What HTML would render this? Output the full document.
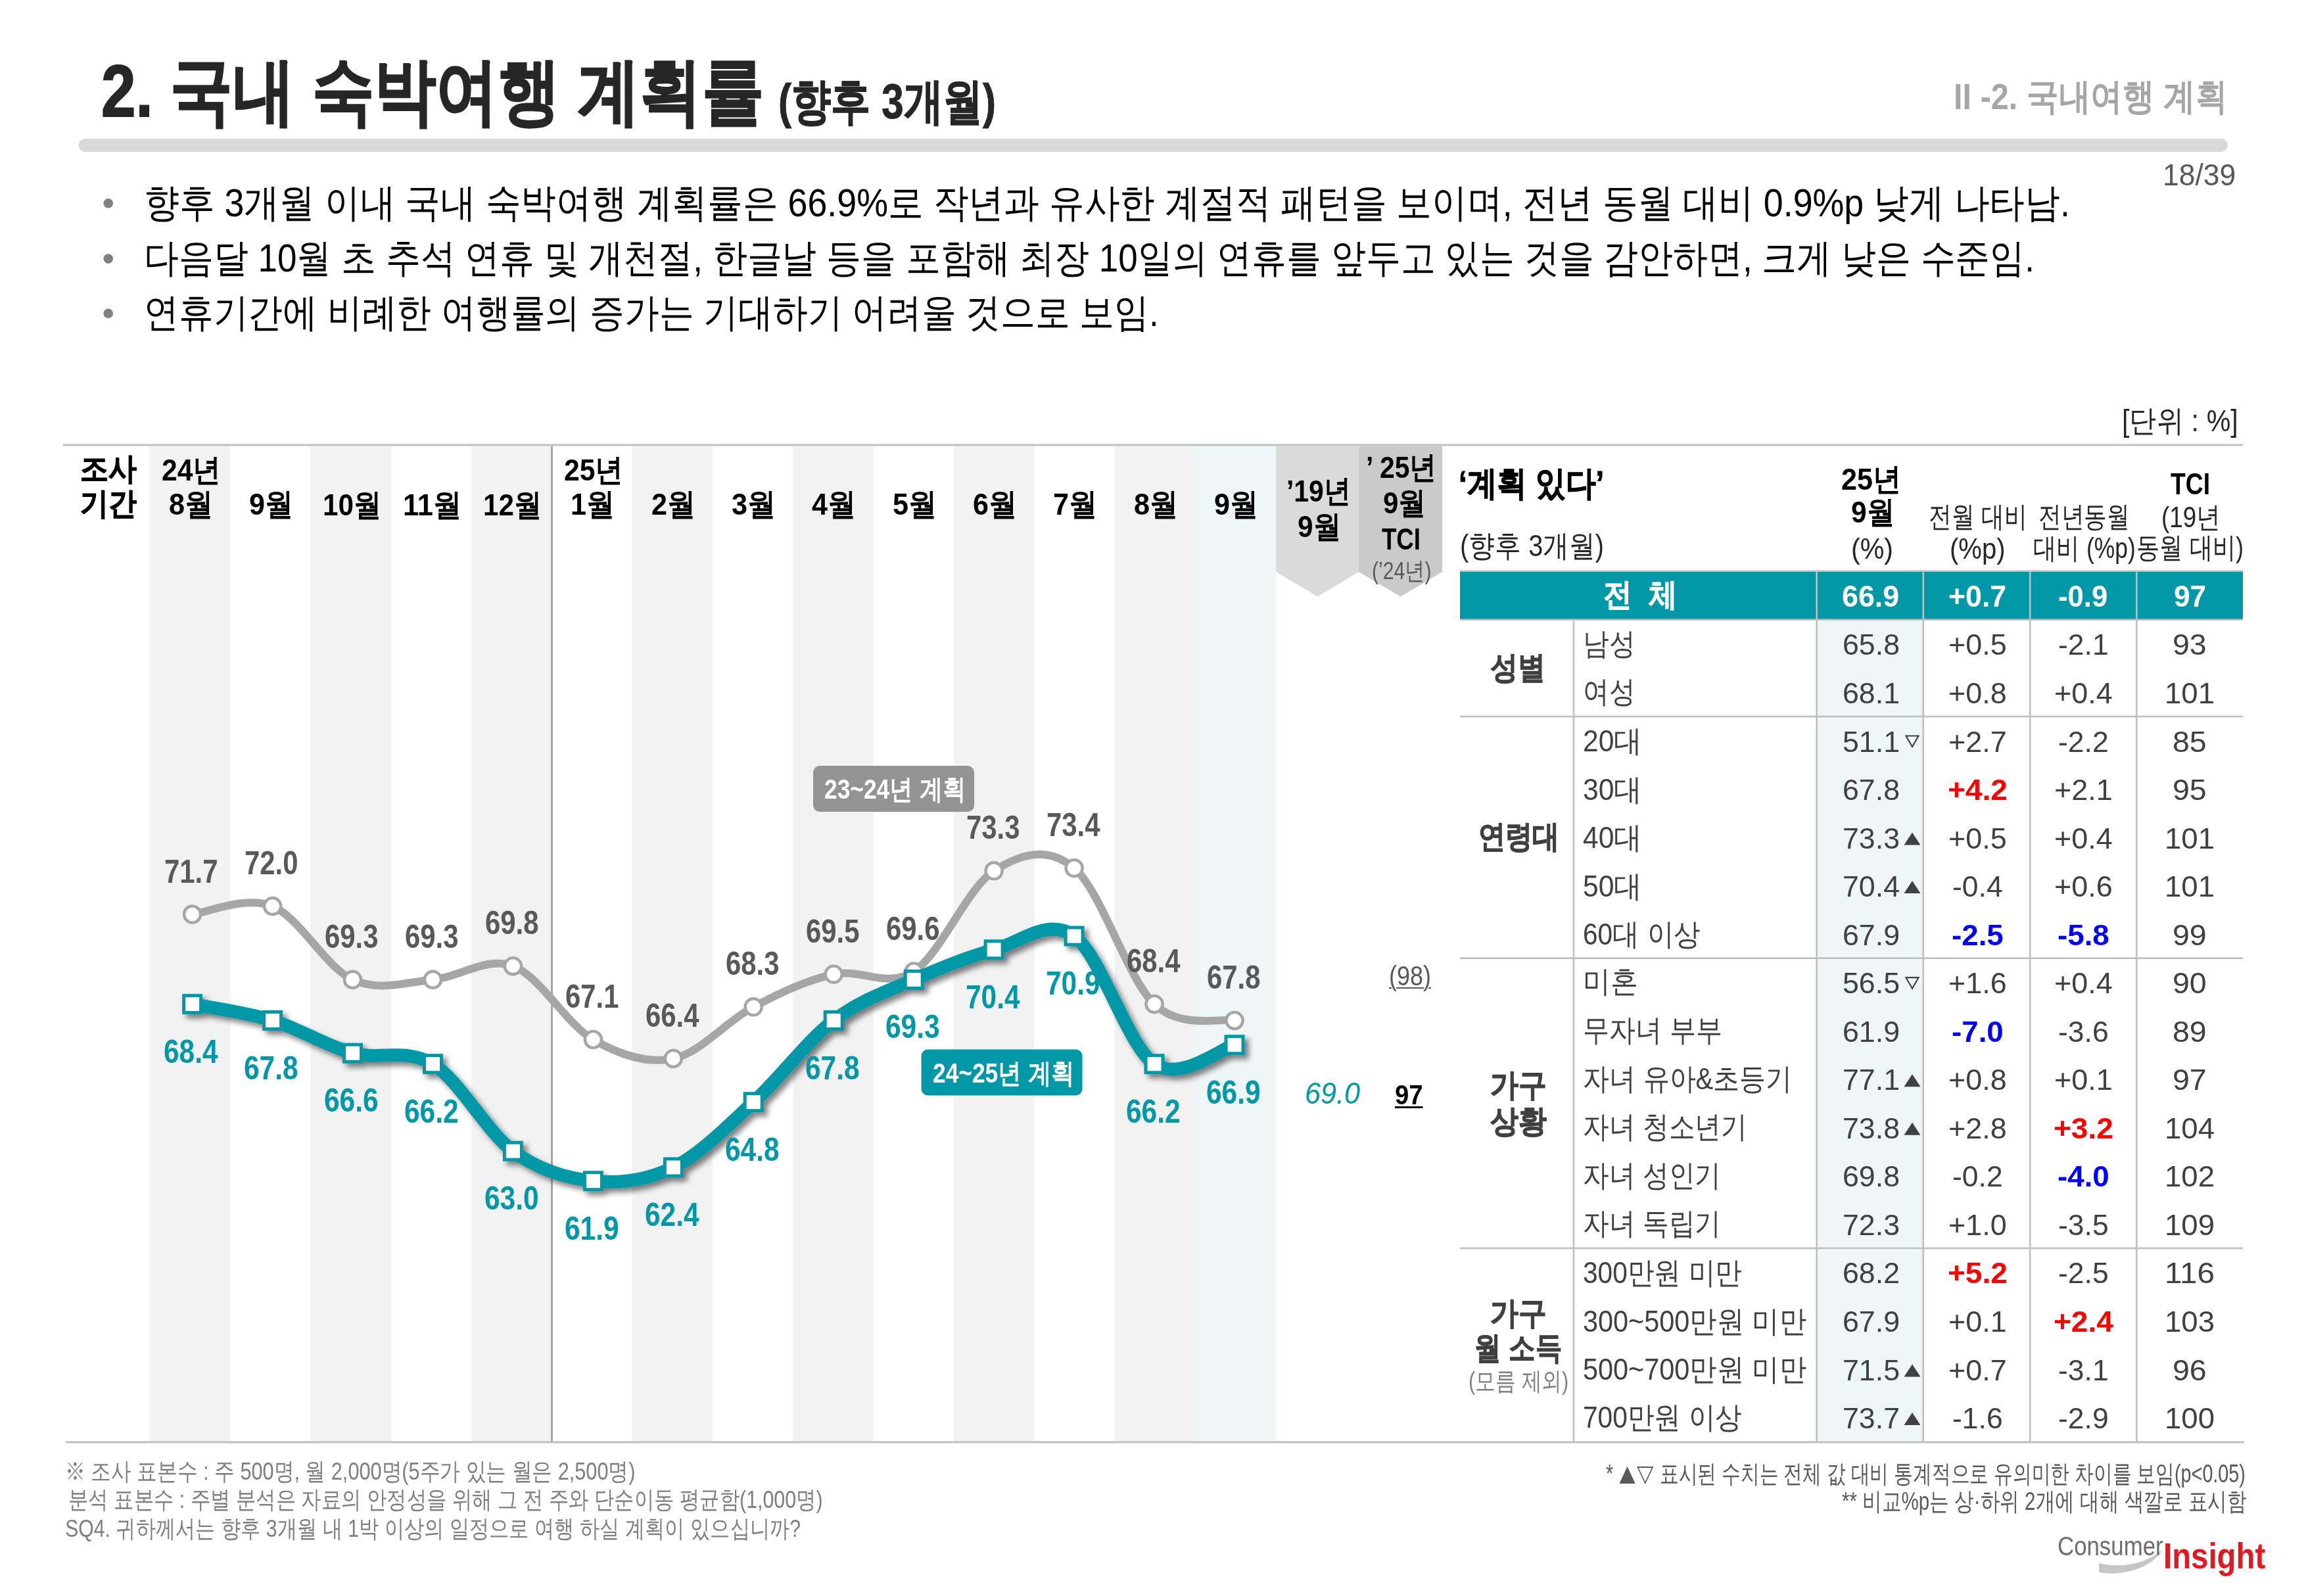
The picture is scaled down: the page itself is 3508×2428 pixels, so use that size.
<!DOCTYPE html>
<html lang="ko"><head><meta charset="utf-8"><title>2. 국내 숙박여행 계획률</title>
<style>
html,body{margin:0;padding:0;background:#fff}
body{width:3508px;height:2428px;position:relative;overflow:hidden;font-family:"Liberation Sans",sans-serif}
#art{position:absolute;left:0;top:0}
.t{position:absolute;white-space:nowrap;transform-origin:0 50%;margin:0;padding:0;list-style:none;display:block}
ul,header,section,footer{margin:0;padding:0}
.tri{vertical-align:-3px;margin:0 1px}
</style></head><body>
<svg id="art" width="3508" height="2428" viewBox="0 0 3508 2428">
<defs><filter id="sh" x="-5%" y="-5%" width="110%" height="120%"><feGaussianBlur in="SourceAlpha" stdDeviation="4.5"/><feOffset dx="6" dy="6"/><feComponentTransfer><feFuncA type="linear" slope="0.5"/></feComponentTransfer><feMerge><feMergeNode/><feMergeNode in="SourceGraphic"/></feMerge></filter></defs>
<rect x="228.0" y="679" width="122.3" height="1514" fill="#f2f2f2"/>
<rect x="472.6" y="679" width="122.3" height="1514" fill="#f2f2f2"/>
<rect x="717.2" y="679" width="122.3" height="1514" fill="#f2f2f2"/>
<rect x="961.8" y="679" width="122.3" height="1514" fill="#f2f2f2"/>
<rect x="1206.4" y="679" width="122.3" height="1514" fill="#f2f2f2"/>
<rect x="1451.0" y="679" width="122.3" height="1514" fill="#f2f2f2"/>
<rect x="1695.6" y="679" width="122.3" height="1514" fill="#f2f2f2"/>
<rect x="1816.2" y="679" width="125.0" height="1514" fill="#eef6f7"/>
<rect x="2763.7" y="943" width="162.1" height="1250" fill="#eef6f7"/>
<path d="M1941.2 679H2067.1V870L2004.2 907.6L1941.2 870Z" fill="#dadada"/>
<path d="M2067.1 679H2194.1V870L2130.6 907.6L2067.1 870Z" fill="#cacaca"/>
<rect x="838" y="679" width="3" height="1514" fill="#a6a6a6"/>
<path d="M292.6 1391.0 C312.9 1388.9 373.9 1362.0 414.6 1378.6 C455.2 1395.2 495.9 1471.7 536.5 1490.4 C577.1 1509.0 617.8 1493.8 658.5 1490.4 C699.1 1486.9 739.8 1454.5 780.4 1469.7 C821.1 1484.9 861.7 1558.0 902.4 1581.5 C943.0 1604.9 983.7 1618.7 1024.3 1610.4 C1065.0 1602.2 1105.6 1553.2 1146.2 1531.8 C1186.9 1510.4 1227.5 1491.1 1268.2 1482.1 C1308.9 1473.1 1349.5 1504.2 1390.2 1478.0 C1430.8 1451.7 1471.4 1351.0 1512.1 1324.8 C1552.8 1298.6 1593.4 1286.8 1634.1 1320.6 C1674.7 1354.4 1715.3 1489.0 1756.0 1527.6 C1796.7 1566.3 1857.6 1548.3 1878.0 1552.5" fill="none" stroke="#a6a6a6" stroke-width="12" stroke-linecap="round" stroke-linejoin="round"/>
<circle cx="292.6" cy="1391.0" r="12.6" fill="#fff" stroke="#a6a6a6" stroke-width="4.4"/>
<circle cx="414.6" cy="1378.6" r="12.6" fill="#fff" stroke="#a6a6a6" stroke-width="4.4"/>
<circle cx="536.5" cy="1490.4" r="12.6" fill="#fff" stroke="#a6a6a6" stroke-width="4.4"/>
<circle cx="658.5" cy="1490.4" r="12.6" fill="#fff" stroke="#a6a6a6" stroke-width="4.4"/>
<circle cx="780.4" cy="1469.7" r="12.6" fill="#fff" stroke="#a6a6a6" stroke-width="4.4"/>
<circle cx="902.4" cy="1581.5" r="12.6" fill="#fff" stroke="#a6a6a6" stroke-width="4.4"/>
<circle cx="1024.3" cy="1610.4" r="12.6" fill="#fff" stroke="#a6a6a6" stroke-width="4.4"/>
<circle cx="1146.2" cy="1531.8" r="12.6" fill="#fff" stroke="#a6a6a6" stroke-width="4.4"/>
<circle cx="1268.2" cy="1482.1" r="12.6" fill="#fff" stroke="#a6a6a6" stroke-width="4.4"/>
<circle cx="1390.2" cy="1478.0" r="12.6" fill="#fff" stroke="#a6a6a6" stroke-width="4.4"/>
<circle cx="1512.1" cy="1324.8" r="12.6" fill="#fff" stroke="#a6a6a6" stroke-width="4.4"/>
<circle cx="1634.1" cy="1320.6" r="12.6" fill="#fff" stroke="#a6a6a6" stroke-width="4.4"/>
<circle cx="1756.0" cy="1527.6" r="12.6" fill="#fff" stroke="#a6a6a6" stroke-width="4.4"/>
<circle cx="1878.0" cy="1552.5" r="12.6" fill="#fff" stroke="#a6a6a6" stroke-width="4.4"/>
<g filter="url(#sh)"><path d="M292.6 1527.6 C312.9 1531.8 373.9 1540.1 414.6 1552.5 C455.2 1564.9 495.9 1591.1 536.5 1602.2 C577.1 1613.2 617.8 1593.9 658.5 1618.7 C699.1 1643.6 739.8 1721.5 780.4 1751.2 C821.1 1780.9 861.7 1792.6 902.4 1796.7 C943.0 1800.9 983.7 1796.0 1024.3 1776.0 C1065.0 1756.0 1105.6 1713.9 1146.2 1676.7 C1186.9 1639.4 1227.5 1583.5 1268.2 1552.5 C1308.9 1521.4 1349.5 1508.3 1390.2 1490.4 C1430.8 1472.4 1471.4 1455.9 1512.1 1444.8 C1552.8 1433.8 1593.4 1395.2 1634.1 1424.1 C1674.7 1453.1 1715.3 1591.1 1756.0 1618.7 C1796.7 1646.3 1857.6 1594.6 1878.0 1589.7" fill="none" stroke="#0097a7" stroke-width="20" stroke-linecap="round" stroke-linejoin="round"/>
<rect x="279.6" y="1514.6" width="26" height="26" fill="#fff" stroke="#0097a7" stroke-width="5"/>
<rect x="401.6" y="1539.5" width="26" height="26" fill="#fff" stroke="#0097a7" stroke-width="5"/>
<rect x="523.5" y="1589.2" width="26" height="26" fill="#fff" stroke="#0097a7" stroke-width="5"/>
<rect x="645.5" y="1605.7" width="26" height="26" fill="#fff" stroke="#0097a7" stroke-width="5"/>
<rect x="767.4" y="1738.2" width="26" height="26" fill="#fff" stroke="#0097a7" stroke-width="5"/>
<rect x="889.4" y="1783.7" width="26" height="26" fill="#fff" stroke="#0097a7" stroke-width="5"/>
<rect x="1011.3" y="1763.0" width="26" height="26" fill="#fff" stroke="#0097a7" stroke-width="5"/>
<rect x="1133.2" y="1663.7" width="26" height="26" fill="#fff" stroke="#0097a7" stroke-width="5"/>
<rect x="1255.2" y="1539.5" width="26" height="26" fill="#fff" stroke="#0097a7" stroke-width="5"/>
<rect x="1377.2" y="1477.4" width="26" height="26" fill="#fff" stroke="#0097a7" stroke-width="5"/>
<rect x="1499.1" y="1431.8" width="26" height="26" fill="#fff" stroke="#0097a7" stroke-width="5"/>
<rect x="1621.1" y="1411.1" width="26" height="26" fill="#fff" stroke="#0097a7" stroke-width="5"/>
<rect x="1743.0" y="1605.7" width="26" height="26" fill="#fff" stroke="#0097a7" stroke-width="5"/>
<rect x="1865.0" y="1576.7" width="26" height="26" fill="#fff" stroke="#0097a7" stroke-width="5"/>
</g>
<rect x="1237" y="1165" width="245" height="70" rx="10" fill="#939393"/>
<rect x="1401.5" y="1596.5" width="245" height="70" rx="10" fill="#0097a7"/>
<rect x="119.5" y="211" width="3269.5" height="20" rx="10" fill="#d9d9d9"/>
<rect x="96" y="675.5" width="3316" height="3" fill="#bfbfbf"/>
<rect x="100" y="2192.5" width="3314" height="3" fill="#bfbfbf"/>
<circle cx="164.7" cy="309.3" r="7.3" fill="#808080"/>
<circle cx="164.7" cy="393.6" r="7.3" fill="#808080"/>
<circle cx="164.7" cy="476.8" r="7.3" fill="#808080"/>
<rect x="2221" y="869.5" width="1191" height="73" fill="#0097a7"/>
<rect x="2221" y="867.5" width="1191" height="2.5" fill="#bfbfbf"/>
<rect x="2221" y="941.5" width="1191" height="2.5" fill="#bfbfbf"/>
<rect x="2762.4" y="868" width="2.6" height="1325" fill="#bfbfbf"/>
<rect x="2924.5" y="868" width="2.6" height="1325" fill="#bfbfbf"/>
<rect x="3086.9" y="868" width="2.6" height="1325" fill="#bfbfbf"/>
<rect x="3249.0" y="868" width="2.6" height="1325" fill="#bfbfbf"/>
<rect x="2392.7" y="944" width="2.6" height="1249" fill="#bfbfbf"/>
<rect x="2221" y="1088.7" width="1191" height="2.6" fill="#bfbfbf"/>
<rect x="2221" y="1456.4" width="1191" height="2.6" fill="#bfbfbf"/>
<rect x="2221" y="1897.6" width="1191" height="2.6" fill="#bfbfbf"/>
<path d="M2899.5 1119.5h19l-9.5 16.5z" fill="none" stroke="#404040" stroke-width="2.2"/>
<path d="M2896.5 1285.5l12.5 -19l12.5 19z" fill="#404040"/>
<path d="M2896.5 1359.1l12.5 -19l12.5 19z" fill="#404040"/>
<path d="M2899.5 1487.2h19l-9.5 16.5z" fill="none" stroke="#404040" stroke-width="2.2"/>
<path d="M2896.5 1653.2l12.5 -19l12.5 19z" fill="#404040"/>
<path d="M2896.5 1726.8l12.5 -19l12.5 19z" fill="#404040"/>
<path d="M2896.5 2094.5l12.5 -19l12.5 19z" fill="#404040"/>
<path d="M2896.5 2168.0l12.5 -19l12.5 19z" fill="#404040"/>
<path d="M3193 2378C3225 2386 3265 2380 3290 2357C3272 2388 3225 2398 3193 2392Z" fill="#c6c6c6"/>
</svg>
<header>
<h1 class="t h1" style="left:154.2px;top:73.4px;height:133px;line-height:133px;font-size:111px;color:#262626;font-weight:700;-webkit-text-stroke:2px #262626;transform:scaleX(0.8510);width:1184.7px;text-align-last:justify;">2. 국내 숙박여행 계획률</h1>
<div class="t h1s" style="left:1183.8px;top:109.1px;height:90px;line-height:90px;font-size:75px;color:#262626;font-weight:700;-webkit-text-stroke:1px #262626;transform:scaleX(0.8012);width:413.1px;text-align-last:justify;">(향후 3개월)</div>
<div class="t" style="left:2972.0px;top:112.7px;height:67px;line-height:67px;font-size:56px;color:#a6a6a6;font-weight:700;transform:scaleX(0.8675);width:479.8px;text-align-last:justify;">II -2. 국내여행 계획</div>
<div class="t" style="left:3289.9px;top:238.0px;height:56px;line-height:56px;font-size:46.5px;color:#595959;transform:scaleX(0.9560);">18/39</div>
</header>
<ul>
<li class="t li" style="left:219.0px;top:272.5px;height:72px;line-height:72px;font-size:60px;color:#000;transform:scaleX(0.8957);width:3271.0px;text-align-last:justify;">향후 3개월 이내 국내 숙박여행 계획률은 66.9%로 작년과 유사한 계절적 패턴을 보이며, 전년 동월 대비 0.9%p 낮게 나타남.</li>
<li class="t li" style="left:219.0px;top:356.7px;height:72px;line-height:72px;font-size:60px;color:#000;transform:scaleX(0.8820);width:3260.8px;text-align-last:justify;">다음달 10월 초 추석 연휴 및 개천절, 한글날 등을 포함해 최장 10일의 연휴를 앞두고 있는 것을 감안하면, 크게 낮은 수준임.</li>
<li class="t li" style="left:219.0px;top:439.8px;height:72px;line-height:72px;font-size:60px;color:#000;transform:scaleX(0.8801);width:1754.0px;text-align-last:justify;">연휴기간에 비례한 여행률의 증가는 기대하기 어려울 것으로 보임.</li>
</ul>
<section id="chart">
<div class="t" style="left:3227.9px;top:613.0px;height:55px;line-height:55px;font-size:46px;color:#262626;transform:scaleX(0.8954);width:197.4px;text-align-last:justify;">[단위 : %]</div>
<div class="t" style="left:121.7px;top:685.2px;height:56px;line-height:56px;font-size:47px;color:#000;font-weight:700;-webkit-text-stroke:1px #000;transform:scaleX(0.9136);">조사</div>
<div class="t" style="left:121.7px;top:738.1px;height:56px;line-height:56px;font-size:47px;color:#000;font-weight:700;-webkit-text-stroke:1px #000;transform:scaleX(0.9136);">기간</div>
<div class="t" style="left:256.9px;top:739.2px;height:56px;line-height:56px;font-size:47px;color:#000;font-weight:700;transform:scaleX(0.9184);">8월</div>
<div class="t" style="left:379.2px;top:739.2px;height:56px;line-height:56px;font-size:47px;color:#000;font-weight:700;transform:scaleX(0.9184);">9월</div>
<div class="t" style="left:490.5px;top:739.5px;height:56px;line-height:56px;font-size:47px;color:#000;font-weight:700;transform:scaleX(0.8982);">10월</div>
<div class="t" style="left:612.8px;top:739.5px;height:56px;line-height:56px;font-size:47px;color:#000;font-weight:700;transform:scaleX(0.9222);">11월</div>
<div class="t" style="left:735.1px;top:739.5px;height:56px;line-height:56px;font-size:47px;color:#000;font-weight:700;transform:scaleX(0.8982);">12월</div>
<div class="t" style="left:868.4px;top:739.2px;height:56px;line-height:56px;font-size:47px;color:#000;font-weight:700;transform:scaleX(0.9184);">1월</div>
<div class="t" style="left:990.7px;top:739.2px;height:56px;line-height:56px;font-size:47px;color:#000;font-weight:700;transform:scaleX(0.9184);">2월</div>
<div class="t" style="left:1113.0px;top:739.2px;height:56px;line-height:56px;font-size:47px;color:#000;font-weight:700;transform:scaleX(0.9184);">3월</div>
<div class="t" style="left:1235.3px;top:739.2px;height:56px;line-height:56px;font-size:47px;color:#000;font-weight:700;transform:scaleX(0.9184);">4월</div>
<div class="t" style="left:1357.6px;top:739.2px;height:56px;line-height:56px;font-size:47px;color:#000;font-weight:700;transform:scaleX(0.9184);">5월</div>
<div class="t" style="left:1479.9px;top:739.2px;height:56px;line-height:56px;font-size:47px;color:#000;font-weight:700;transform:scaleX(0.9184);">6월</div>
<div class="t" style="left:1602.2px;top:739.2px;height:56px;line-height:56px;font-size:47px;color:#000;font-weight:700;transform:scaleX(0.9184);">7월</div>
<div class="t" style="left:1724.5px;top:739.2px;height:56px;line-height:56px;font-size:47px;color:#000;font-weight:700;transform:scaleX(0.9184);">8월</div>
<div class="t" style="left:1846.8px;top:739.2px;height:56px;line-height:56px;font-size:47px;color:#000;font-weight:700;transform:scaleX(0.9184);">9월</div>
<div class="t" style="left:246.0px;top:686.7px;height:56px;line-height:56px;font-size:47px;color:#000;font-weight:700;transform:scaleX(0.9082);">24년</div>
<div class="t" style="left:857.5px;top:686.7px;height:56px;line-height:56px;font-size:47px;color:#000;font-weight:700;transform:scaleX(0.9082);">25년</div>
<div class="t" style="left:1957.0px;top:719.0px;height:56px;line-height:56px;font-size:47px;color:#000;font-weight:700;transform:scaleX(0.8694);">’19년</div>
<div class="t" style="left:1973.8px;top:773.2px;height:56px;line-height:56px;font-size:47px;color:#000;font-weight:700;transform:scaleX(0.8992);">9월</div>
<div class="t" style="left:2078.0px;top:683.2px;height:56px;line-height:56px;font-size:47px;color:#000;font-weight:700;transform:scaleX(0.8686);width:123.4px;text-align-last:justify;">’ 25년</div>
<div class="t" style="left:2104.1px;top:736.8px;height:56px;line-height:56px;font-size:47px;color:#000;font-weight:700;transform:scaleX(0.8938);">9월</div>
<div class="t" style="left:2102.1px;top:792.0px;height:56px;line-height:56px;font-size:47px;color:#000;font-weight:700;transform:scaleX(0.7791);">TCI</div>
<div class="t" style="left:2086.5px;top:847.1px;height:44px;line-height:44px;font-size:37px;color:#595959;transform:scaleX(0.8150);">(’24년)</div>
<div class="t" style="left:250.4px;top:1295.5px;height:60px;line-height:60px;font-size:50px;color:#595959;font-weight:700;transform:scaleX(0.8374);">71.7</div>
<div class="t" style="left:372.3px;top:1283.1px;height:60px;line-height:60px;font-size:50px;color:#595959;font-weight:700;transform:scaleX(0.8374);">72.0</div>
<div class="t" style="left:494.2px;top:1394.9px;height:60px;line-height:60px;font-size:50px;color:#595959;font-weight:700;transform:scaleX(0.8374);">69.3</div>
<div class="t" style="left:616.2px;top:1394.9px;height:60px;line-height:60px;font-size:50px;color:#595959;font-weight:700;transform:scaleX(0.8374);">69.3</div>
<div class="t" style="left:738.2px;top:1374.2px;height:60px;line-height:60px;font-size:50px;color:#595959;font-weight:700;transform:scaleX(0.8374);">69.8</div>
<div class="t" style="left:860.1px;top:1486.0px;height:60px;line-height:60px;font-size:50px;color:#595959;font-weight:700;transform:scaleX(0.8374);">67.1</div>
<div class="t" style="left:982.1px;top:1514.9px;height:60px;line-height:60px;font-size:50px;color:#595959;font-weight:700;transform:scaleX(0.8374);">66.4</div>
<div class="t" style="left:1104.0px;top:1436.3px;height:60px;line-height:60px;font-size:50px;color:#595959;font-weight:700;transform:scaleX(0.8374);">68.3</div>
<div class="t" style="left:1226.0px;top:1386.6px;height:60px;line-height:60px;font-size:50px;color:#595959;font-weight:700;transform:scaleX(0.8374);">69.5</div>
<div class="t" style="left:1347.9px;top:1382.5px;height:60px;line-height:60px;font-size:50px;color:#595959;font-weight:700;transform:scaleX(0.8374);">69.6</div>
<div class="t" style="left:1469.8px;top:1229.3px;height:60px;line-height:60px;font-size:50px;color:#595959;font-weight:700;transform:scaleX(0.8374);">73.3</div>
<div class="t" style="left:1591.8px;top:1225.1px;height:60px;line-height:60px;font-size:50px;color:#595959;font-weight:700;transform:scaleX(0.8374);">73.4</div>
<div class="t" style="left:1713.8px;top:1432.1px;height:60px;line-height:60px;font-size:50px;color:#595959;font-weight:700;transform:scaleX(0.8374);">68.4</div>
<div class="t" style="left:1835.7px;top:1457.0px;height:60px;line-height:60px;font-size:50px;color:#595959;font-weight:700;transform:scaleX(0.8374);">67.8</div>
<div class="t" style="left:249.4px;top:1569.6px;height:60px;line-height:60px;font-size:50px;color:#0097a7;font-weight:700;transform:scaleX(0.8476);">68.4</div>
<div class="t" style="left:371.3px;top:1594.5px;height:60px;line-height:60px;font-size:50px;color:#0097a7;font-weight:700;transform:scaleX(0.8476);">67.8</div>
<div class="t" style="left:493.2px;top:1644.2px;height:60px;line-height:60px;font-size:50px;color:#0097a7;font-weight:700;transform:scaleX(0.8476);">66.6</div>
<div class="t" style="left:615.2px;top:1660.7px;height:60px;line-height:60px;font-size:50px;color:#0097a7;font-weight:700;transform:scaleX(0.8476);">66.2</div>
<div class="t" style="left:737.2px;top:1793.2px;height:60px;line-height:60px;font-size:50px;color:#0097a7;font-weight:700;transform:scaleX(0.8476);">63.0</div>
<div class="t" style="left:859.1px;top:1838.7px;height:60px;line-height:60px;font-size:50px;color:#0097a7;font-weight:700;transform:scaleX(0.8476);">61.9</div>
<div class="t" style="left:981.1px;top:1818.0px;height:60px;line-height:60px;font-size:50px;color:#0097a7;font-weight:700;transform:scaleX(0.8476);">62.4</div>
<div class="t" style="left:1103.0px;top:1718.7px;height:60px;line-height:60px;font-size:50px;color:#0097a7;font-weight:700;transform:scaleX(0.8476);">64.8</div>
<div class="t" style="left:1225.0px;top:1594.5px;height:60px;line-height:60px;font-size:50px;color:#0097a7;font-weight:700;transform:scaleX(0.8476);">67.8</div>
<div class="t" style="left:1346.9px;top:1532.4px;height:60px;line-height:60px;font-size:50px;color:#0097a7;font-weight:700;transform:scaleX(0.8476);">69.3</div>
<div class="t" style="left:1468.8px;top:1486.8px;height:60px;line-height:60px;font-size:50px;color:#0097a7;font-weight:700;transform:scaleX(0.8476);">70.4</div>
<div class="t" style="left:1590.8px;top:1466.1px;height:60px;line-height:60px;font-size:50px;color:#0097a7;font-weight:700;transform:scaleX(0.8476);">70.9</div>
<div class="t" style="left:1712.8px;top:1660.7px;height:60px;line-height:60px;font-size:50px;color:#0097a7;font-weight:700;transform:scaleX(0.8476);">66.2</div>
<div class="t" style="left:1834.7px;top:1631.7px;height:60px;line-height:60px;font-size:50px;color:#0097a7;font-weight:700;transform:scaleX(0.8476);">66.9</div>
<div class="t" style="left:1254.3px;top:1176.1px;height:50px;line-height:50px;font-size:42px;color:#fff;font-weight:700;transform:scaleX(0.8407);width:256.2px;text-align-last:justify;">23~24년 계획</div>
<div class="t" style="left:1418.5px;top:1607.6px;height:50px;line-height:50px;font-size:42px;color:#fff;font-weight:700;transform:scaleX(0.8415);width:256.2px;text-align-last:justify;">24~25년 계획</div>
<div class="t" style="left:2113.0px;top:1458.0px;height:52px;line-height:52px;font-size:43px;color:#595959;text-decoration:underline;text-decoration-thickness:2px;text-underline-offset:3px;transform:scaleX(0.8369);">(98)</div>
<div class="t" style="left:1984.7px;top:1636.0px;height:55px;line-height:55px;font-size:46px;color:#0097a7;font-style:italic;transform:scaleX(0.9384);">69.0</div>
<div class="t" style="left:2121.5px;top:1639.0px;height:52px;line-height:52px;font-size:43px;color:#000;font-weight:700;text-decoration:underline;text-decoration-thickness:3px;text-underline-offset:3px;transform:scaleX(0.8883);">97</div>
</section>
<section id="table">
<div class="t" style="left:2219.2px;top:704.2px;height:62px;line-height:62px;font-size:52px;color:#000;font-weight:700;-webkit-text-stroke:1px #000;transform:scaleX(0.8778);width:251.9px;text-align-last:justify;">‘계획 있다’</div>
<div class="t" style="left:2221.1px;top:803.4px;height:55px;line-height:55px;font-size:46px;color:#262626;transform:scaleX(0.8637);width:253.6px;text-align-last:justify;">(향후 3개월)</div>
<div class="t" style="left:2801.4px;top:700.7px;height:56px;line-height:56px;font-size:47px;color:#000;font-weight:700;transform:scaleX(0.9183);">25년</div>
<div class="t" style="left:2816.4px;top:751.4px;height:56px;line-height:56px;font-size:47px;color:#000;font-weight:700;transform:scaleX(0.9047);">9월</div>
<div class="t" style="left:2815.5px;top:807.9px;height:53px;line-height:53px;font-size:44px;color:#262626;transform:scaleX(0.9363);">(%)</div>
<div class="t" style="left:2933.5px;top:758.7px;height:53px;line-height:53px;font-size:44px;color:#262626;transform:scaleX(0.7916);width:188.8px;text-align-last:justify;">전월 대비</div>
<div class="t" style="left:2966.0px;top:807.9px;height:53px;line-height:53px;font-size:44px;color:#262626;transform:scaleX(0.9104);">(%p)</div>
<div class="t" style="left:3100.8px;top:758.7px;height:53px;line-height:53px;font-size:44px;color:#262626;transform:scaleX(0.7886);">전년동월</div>
<div class="t" style="left:3092.8px;top:806.5px;height:53px;line-height:53px;font-size:44px;color:#262626;transform:scaleX(0.8038);width:193.7px;text-align-last:justify;">대비 (%p)</div>
<div class="t" style="left:3301.6px;top:708.3px;height:56px;line-height:56px;font-size:47px;color:#000;font-weight:700;transform:scaleX(0.7936);">TCI</div>
<div class="t" style="left:3287.5px;top:760.1px;height:53px;line-height:53px;font-size:44px;color:#262626;transform:scaleX(0.8350);">(19년</div>
<div class="t" style="left:3250.0px;top:805.8px;height:53px;line-height:53px;font-size:44px;color:#262626;transform:scaleX(0.8011);width:203.5px;text-align-last:justify;">동월 대비)</div>
<div class="t" style="left:2438.6px;top:876.3px;height:58px;line-height:58px;font-size:48px;color:#fff;font-weight:700;word-spacing:14px;-webkit-text-stroke:1px #fff;transform:scaleX(0.9080);width:123.9px;text-align-last:justify;">전 체</div>
<div class="t" style="left:2802.4px;top:880.1px;height:55px;line-height:55px;font-size:46px;color:#fff;font-weight:700;transform:scaleX(0.9742);">66.9</div>
<div class="t" style="left:2963.9px;top:880.1px;height:55px;line-height:55px;font-size:46px;color:#fff;font-weight:700;transform:scaleX(0.9715);">+0.7</div>
<div class="t" style="left:3131.4px;top:880.1px;height:55px;line-height:55px;font-size:46px;color:#fff;font-weight:700;transform:scaleX(0.9490);">-0.9</div>
<div class="t" style="left:3306.9px;top:880.1px;height:55px;line-height:55px;font-size:46px;color:#fff;font-weight:700;transform:scaleX(0.9619);">97</div>
<div class="t" style="left:2407.7px;top:951.7px;height:55px;line-height:55px;font-size:46px;color:#404040;transform:scaleX(0.8636);">남성</div>
<div class="t" style="left:2802.5px;top:954.4px;height:54px;line-height:54px;font-size:45px;color:#404040;transform:scaleX(0.9938);">65.8</div>
<div class="t" style="left:2963.6px;top:954.4px;height:54px;line-height:54px;font-size:45px;color:#404040;transform:scaleX(0.9989);">+0.5</div>
<div class="t" style="left:3130.6px;top:954.4px;height:54px;line-height:54px;font-size:45px;color:#404040;transform:scaleX(0.9897);">-2.1</div>
<div class="t" style="left:3305.1px;top:954.4px;height:54px;line-height:54px;font-size:45px;color:#404040;transform:scaleX(1.0337);">93</div>
<div class="t" style="left:2407.7px;top:1025.2px;height:55px;line-height:55px;font-size:46px;color:#404040;transform:scaleX(0.8636);">여성</div>
<div class="t" style="left:2802.5px;top:1027.9px;height:54px;line-height:54px;font-size:45px;color:#404040;transform:scaleX(0.9938);">68.1</div>
<div class="t" style="left:2963.6px;top:1027.9px;height:54px;line-height:54px;font-size:45px;color:#404040;transform:scaleX(0.9989);">+0.8</div>
<div class="t" style="left:3124.6px;top:1027.9px;height:54px;line-height:54px;font-size:45px;color:#404040;transform:scaleX(0.9989);">+0.4</div>
<div class="t" style="left:3293.0px;top:1027.9px;height:54px;line-height:54px;font-size:45px;color:#404040;transform:scaleX(1.0127);">101</div>
<div class="t" style="left:2408.4px;top:1100.2px;height:55px;line-height:55px;font-size:46px;color:#404040;transform:scaleX(0.9268);">20대</div>
<div class="t" style="left:2802.5px;top:1101.5px;height:54px;line-height:54px;font-size:45px;color:#404040;transform:scaleX(0.9938);">51.1</div>
<div class="t" style="left:2963.6px;top:1101.5px;height:54px;line-height:54px;font-size:45px;color:#404040;transform:scaleX(0.9989);">+2.7</div>
<div class="t" style="left:3130.6px;top:1101.5px;height:54px;line-height:54px;font-size:45px;color:#404040;transform:scaleX(0.9897);">-2.2</div>
<div class="t" style="left:3305.1px;top:1101.5px;height:54px;line-height:54px;font-size:45px;color:#404040;transform:scaleX(1.0337);">85</div>
<div class="t" style="left:2408.4px;top:1173.8px;height:55px;line-height:55px;font-size:46px;color:#404040;transform:scaleX(0.9268);">30대</div>
<div class="t" style="left:2802.5px;top:1175.0px;height:54px;line-height:54px;font-size:45px;color:#404040;transform:scaleX(0.9938);">67.8</div>
<div class="t" style="left:2962.6px;top:1175.0px;height:54px;line-height:54px;font-size:45px;color:#ff0000;font-weight:700;transform:scaleX(1.0215);">+4.2</div>
<div class="t" style="left:3124.6px;top:1175.0px;height:54px;line-height:54px;font-size:45px;color:#404040;transform:scaleX(0.9989);">+2.1</div>
<div class="t" style="left:3305.1px;top:1175.0px;height:54px;line-height:54px;font-size:45px;color:#404040;transform:scaleX(1.0337);">95</div>
<div class="t" style="left:2408.4px;top:1247.3px;height:55px;line-height:55px;font-size:46px;color:#404040;transform:scaleX(0.9268);">40대</div>
<div class="t" style="left:2802.5px;top:1248.5px;height:54px;line-height:54px;font-size:45px;color:#404040;transform:scaleX(0.9938);">73.3</div>
<div class="t" style="left:2963.6px;top:1248.5px;height:54px;line-height:54px;font-size:45px;color:#404040;transform:scaleX(0.9989);">+0.5</div>
<div class="t" style="left:3124.6px;top:1248.5px;height:54px;line-height:54px;font-size:45px;color:#404040;transform:scaleX(0.9989);">+0.4</div>
<div class="t" style="left:3293.0px;top:1248.5px;height:54px;line-height:54px;font-size:45px;color:#404040;transform:scaleX(1.0127);">101</div>
<div class="t" style="left:2408.4px;top:1320.8px;height:55px;line-height:55px;font-size:46px;color:#404040;transform:scaleX(0.9268);">50대</div>
<div class="t" style="left:2802.5px;top:1322.1px;height:54px;line-height:54px;font-size:45px;color:#404040;transform:scaleX(0.9938);">70.4</div>
<div class="t" style="left:2969.6px;top:1322.1px;height:54px;line-height:54px;font-size:45px;color:#404040;transform:scaleX(0.9897);">-0.4</div>
<div class="t" style="left:3124.6px;top:1322.1px;height:54px;line-height:54px;font-size:45px;color:#404040;transform:scaleX(0.9989);">+0.6</div>
<div class="t" style="left:3293.0px;top:1322.1px;height:54px;line-height:54px;font-size:45px;color:#404040;transform:scaleX(1.0127);">101</div>
<div class="t" style="left:2408.4px;top:1393.8px;height:55px;line-height:55px;font-size:46px;color:#404040;transform:scaleX(0.8817);width:202.6px;text-align-last:justify;">60대 이상</div>
<div class="t" style="left:2802.5px;top:1395.6px;height:54px;line-height:54px;font-size:45px;color:#404040;transform:scaleX(0.9938);">67.9</div>
<div class="t" style="left:2968.6px;top:1395.6px;height:54px;line-height:54px;font-size:45px;color:#0000ff;font-weight:700;transform:scaleX(1.0155);">-2.5</div>
<div class="t" style="left:3129.6px;top:1395.6px;height:54px;line-height:54px;font-size:45px;color:#0000ff;font-weight:700;transform:scaleX(1.0155);">-5.8</div>
<div class="t" style="left:3305.1px;top:1395.6px;height:54px;line-height:54px;font-size:45px;color:#404040;transform:scaleX(1.0337);">99</div>
<div class="t" style="left:2407.7px;top:1466.4px;height:55px;line-height:55px;font-size:46px;color:#404040;transform:scaleX(0.9103);">미혼</div>
<div class="t" style="left:2802.5px;top:1469.2px;height:54px;line-height:54px;font-size:45px;color:#404040;transform:scaleX(0.9938);">56.5</div>
<div class="t" style="left:2963.6px;top:1469.2px;height:54px;line-height:54px;font-size:45px;color:#404040;transform:scaleX(0.9989);">+1.6</div>
<div class="t" style="left:3124.6px;top:1469.2px;height:54px;line-height:54px;font-size:45px;color:#404040;transform:scaleX(0.9989);">+0.4</div>
<div class="t" style="left:3305.1px;top:1469.2px;height:54px;line-height:54px;font-size:45px;color:#404040;transform:scaleX(1.0337);">90</div>
<div class="t" style="left:2407.7px;top:1540.0px;height:55px;line-height:55px;font-size:46px;color:#404040;transform:scaleX(0.8693);width:243.4px;text-align-last:justify;">무자녀 부부</div>
<div class="t" style="left:2802.5px;top:1542.7px;height:54px;line-height:54px;font-size:45px;color:#404040;transform:scaleX(0.9938);">61.9</div>
<div class="t" style="left:2968.6px;top:1542.7px;height:54px;line-height:54px;font-size:45px;color:#0000ff;font-weight:700;transform:scaleX(1.0155);">-7.0</div>
<div class="t" style="left:3130.6px;top:1542.7px;height:54px;line-height:54px;font-size:45px;color:#404040;transform:scaleX(0.9897);">-3.6</div>
<div class="t" style="left:3305.1px;top:1542.7px;height:54px;line-height:54px;font-size:45px;color:#404040;transform:scaleX(1.0337);">89</div>
<div class="t" style="left:2407.7px;top:1613.5px;height:55px;line-height:55px;font-size:46px;color:#404040;transform:scaleX(0.8694);width:366.1px;text-align-last:justify;">자녀 유아&amp;초등기</div>
<div class="t" style="left:2802.5px;top:1616.2px;height:54px;line-height:54px;font-size:45px;color:#404040;transform:scaleX(0.9938);">77.1</div>
<div class="t" style="left:2963.6px;top:1616.2px;height:54px;line-height:54px;font-size:45px;color:#404040;transform:scaleX(0.9989);">+0.8</div>
<div class="t" style="left:3124.6px;top:1616.2px;height:54px;line-height:54px;font-size:45px;color:#404040;transform:scaleX(0.9989);">+0.1</div>
<div class="t" style="left:3305.1px;top:1616.2px;height:54px;line-height:54px;font-size:45px;color:#404040;transform:scaleX(1.0337);">97</div>
<div class="t" style="left:2407.7px;top:1687.1px;height:55px;line-height:55px;font-size:46px;color:#404040;transform:scaleX(0.8624);width:289.4px;text-align-last:justify;">자녀 청소년기</div>
<div class="t" style="left:2802.5px;top:1689.8px;height:54px;line-height:54px;font-size:45px;color:#404040;transform:scaleX(0.9938);">73.8</div>
<div class="t" style="left:2963.6px;top:1689.8px;height:54px;line-height:54px;font-size:45px;color:#404040;transform:scaleX(0.9989);">+2.8</div>
<div class="t" style="left:3123.6px;top:1689.8px;height:54px;line-height:54px;font-size:45px;color:#ff0000;font-weight:700;transform:scaleX(1.0215);">+3.2</div>
<div class="t" style="left:3293.0px;top:1689.8px;height:54px;line-height:54px;font-size:45px;color:#404040;transform:scaleX(1.0127);">104</div>
<div class="t" style="left:2407.7px;top:1760.6px;height:55px;line-height:55px;font-size:46px;color:#404040;transform:scaleX(0.8627);width:243.4px;text-align-last:justify;">자녀 성인기</div>
<div class="t" style="left:2802.5px;top:1763.3px;height:54px;line-height:54px;font-size:45px;color:#404040;transform:scaleX(0.9938);">69.8</div>
<div class="t" style="left:2969.6px;top:1763.3px;height:54px;line-height:54px;font-size:45px;color:#404040;transform:scaleX(0.9897);">-0.2</div>
<div class="t" style="left:3129.6px;top:1763.3px;height:54px;line-height:54px;font-size:45px;color:#0000ff;font-weight:700;transform:scaleX(1.0155);">-4.0</div>
<div class="t" style="left:3293.0px;top:1763.3px;height:54px;line-height:54px;font-size:45px;color:#404040;transform:scaleX(1.0127);">102</div>
<div class="t" style="left:2407.7px;top:1834.1px;height:55px;line-height:55px;font-size:46px;color:#404040;transform:scaleX(0.8627);width:243.4px;text-align-last:justify;">자녀 독립기</div>
<div class="t" style="left:2802.5px;top:1836.9px;height:54px;line-height:54px;font-size:45px;color:#404040;transform:scaleX(0.9938);">72.3</div>
<div class="t" style="left:2963.6px;top:1836.9px;height:54px;line-height:54px;font-size:45px;color:#404040;transform:scaleX(0.9989);">+1.0</div>
<div class="t" style="left:3130.6px;top:1836.9px;height:54px;line-height:54px;font-size:45px;color:#404040;transform:scaleX(0.9897);">-3.5</div>
<div class="t" style="left:3293.0px;top:1836.9px;height:54px;line-height:54px;font-size:45px;color:#404040;transform:scaleX(1.0127);">109</div>
<div class="t" style="left:2408.4px;top:1908.6px;height:55px;line-height:55px;font-size:46px;color:#404040;transform:scaleX(0.8828);width:274.1px;text-align-last:justify;">300만원 미만</div>
<div class="t" style="left:2802.5px;top:1910.4px;height:54px;line-height:54px;font-size:45px;color:#404040;transform:scaleX(0.9938);">68.2</div>
<div class="t" style="left:2962.6px;top:1910.4px;height:54px;line-height:54px;font-size:45px;color:#ff0000;font-weight:700;transform:scaleX(1.0215);">+5.2</div>
<div class="t" style="left:3130.6px;top:1910.4px;height:54px;line-height:54px;font-size:45px;color:#404040;transform:scaleX(0.9897);">-2.5</div>
<div class="t" style="left:3293.0px;top:1910.4px;height:54px;line-height:54px;font-size:45px;color:#404040;transform:scaleX(1.0599);">116</div>
<div class="t" style="left:2408.4px;top:1982.5px;height:55px;line-height:55px;font-size:46px;color:#404040;transform:scaleX(0.9003);width:377.8px;text-align-last:justify;">300~500만원 미만</div>
<div class="t" style="left:2802.5px;top:1983.9px;height:54px;line-height:54px;font-size:45px;color:#404040;transform:scaleX(0.9938);">67.9</div>
<div class="t" style="left:2963.6px;top:1983.9px;height:54px;line-height:54px;font-size:45px;color:#404040;transform:scaleX(0.9989);">+0.1</div>
<div class="t" style="left:3123.6px;top:1983.9px;height:54px;line-height:54px;font-size:45px;color:#ff0000;font-weight:700;transform:scaleX(1.0215);">+2.4</div>
<div class="t" style="left:3293.0px;top:1983.9px;height:54px;line-height:54px;font-size:45px;color:#404040;transform:scaleX(1.0127);">103</div>
<div class="t" style="left:2408.4px;top:2056.1px;height:55px;line-height:55px;font-size:46px;color:#404040;transform:scaleX(0.9003);width:377.8px;text-align-last:justify;">500~700만원 미만</div>
<div class="t" style="left:2802.5px;top:2057.5px;height:54px;line-height:54px;font-size:45px;color:#404040;transform:scaleX(0.9938);">71.5</div>
<div class="t" style="left:2963.6px;top:2057.5px;height:54px;line-height:54px;font-size:45px;color:#404040;transform:scaleX(0.9989);">+0.7</div>
<div class="t" style="left:3130.6px;top:2057.5px;height:54px;line-height:54px;font-size:45px;color:#404040;transform:scaleX(0.9897);">-3.1</div>
<div class="t" style="left:3305.1px;top:2057.5px;height:54px;line-height:54px;font-size:45px;color:#404040;transform:scaleX(1.0337);">96</div>
<div class="t" style="left:2408.4px;top:2129.2px;height:55px;line-height:55px;font-size:46px;color:#404040;transform:scaleX(0.8828);width:274.1px;text-align-last:justify;">700만원 이상</div>
<div class="t" style="left:2802.5px;top:2131.0px;height:54px;line-height:54px;font-size:45px;color:#404040;transform:scaleX(0.9938);">73.7</div>
<div class="t" style="left:2969.6px;top:2131.0px;height:54px;line-height:54px;font-size:45px;color:#404040;transform:scaleX(0.9897);">-1.6</div>
<div class="t" style="left:3130.6px;top:2131.0px;height:54px;line-height:54px;font-size:45px;color:#404040;transform:scaleX(0.9897);">-2.9</div>
<div class="t" style="left:3293.0px;top:2131.0px;height:54px;line-height:54px;font-size:45px;color:#404040;transform:scaleX(1.0127);">100</div>
<div class="t" style="left:2266.6px;top:986.7px;height:58px;line-height:58px;font-size:48px;color:#404040;font-weight:700;-webkit-text-stroke:1px #404040;transform:scaleX(0.8750);">성별</div>
<div class="t" style="left:2248.8px;top:1244.2px;height:58px;line-height:58px;font-size:48px;color:#404040;font-weight:700;-webkit-text-stroke:1px #404040;transform:scaleX(0.8576);">연령대</div>
<div class="t" style="left:2266.6px;top:1622.2px;height:58px;line-height:58px;font-size:48px;color:#404040;font-weight:700;-webkit-text-stroke:1px #404040;transform:scaleX(0.8958);">가구</div>
<div class="t" style="left:2266.6px;top:1676.7px;height:58px;line-height:58px;font-size:48px;color:#404040;font-weight:700;-webkit-text-stroke:1px #404040;transform:scaleX(0.8958);">상황</div>
<div class="t" style="left:2266.6px;top:1968.7px;height:58px;line-height:58px;font-size:48px;color:#404040;font-weight:700;-webkit-text-stroke:1px #404040;transform:scaleX(0.8958);">가구</div>
<div class="t" style="left:2242.9px;top:2021.7px;height:58px;line-height:58px;font-size:48px;color:#404040;font-weight:700;-webkit-text-stroke:1px #404040;transform:scaleX(0.8421);width:157.9px;text-align-last:justify;">월 소득</div>
<div class="t" style="left:2233.7px;top:2077.5px;height:46px;line-height:46px;font-size:38px;color:#808080;transform:scaleX(0.8072);width:188.5px;text-align-last:justify;">(모름 제외)</div>
</section>
<footer>
<div class="t" style="left:99.4px;top:2217.0px;height:44px;line-height:44px;font-size:37px;color:#7f7f7f;transform:scaleX(0.8300);width:1045.1px;text-align-last:justify;">※ 조사 표본수 : 주 500명, 월 2,000명(5주가 있는 월은 2,500명)</div>
<div class="t" style="left:104.2px;top:2260.0px;height:44px;line-height:44px;font-size:37px;color:#7f7f7f;transform:scaleX(0.8206);width:1398.5px;text-align-last:justify;">분석 표본수 : 주별 분석은 자료의 안정성을 위해 그 전 주와 단순이동 평균함(1,000명)</div>
<div class="t" style="left:98.7px;top:2303.5px;height:44px;line-height:44px;font-size:37px;color:#7f7f7f;transform:scaleX(0.8170);width:1369.7px;text-align-last:justify;">SQ4. 귀하께서는 향후 3개월 내 1박 이상의 일정으로 여행 하실 계획이 있으십니까?</div>
<div class="t" style="left:2442.7px;top:2219.0px;height:46px;line-height:46px;font-size:38px;color:#595959;transform:scaleX(0.7568);width:1285.6px;text-align-last:justify;">* <svg class="tri" width="34" height="28" viewBox="0 0 34 28"><path d="M1 27L17 1L33 27Z" fill="#595959"/></svg><svg class="tri" width="34" height="28" viewBox="0 0 34 28"><path d="M2 2H32L17 26Z" fill="none" stroke="#595959" stroke-width="2"/></svg> 표시된 수치는 전체 값 대비 통계적으로 유의미한 차이를 보임(p&lt;0.05)</div>
<div class="t" style="left:2801.7px;top:2261.3px;height:46px;line-height:46px;font-size:38px;color:#595959;transform:scaleX(0.7788);width:790.2px;text-align-last:justify;">** 비교%p는 상·하위 2개에 대해 색깔로 표시함</div>
<div class="t" style="left:3129.7px;top:2328.0px;height:48px;line-height:48px;font-size:40px;color:#6e6e6e;transform:scaleX(0.8704);">Consumer</div>
<div class="t" style="left:3290.6px;top:2333.9px;height:66px;line-height:66px;font-size:55.5px;color:#e01a22;font-weight:700;transform:scaleX(0.8532);">Insight</div>
</footer>
</body></html>
